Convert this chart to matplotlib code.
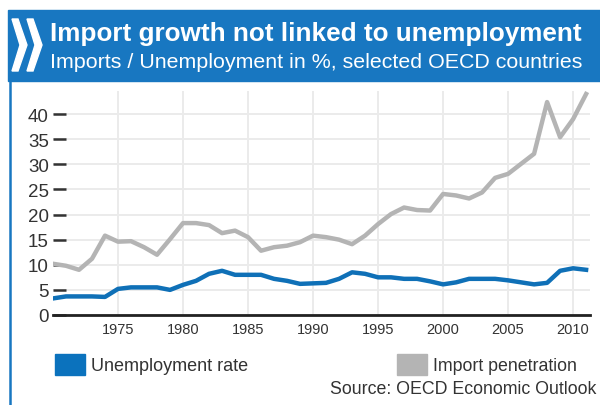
import matplotlib
matplotlib.use("Agg")
import matplotlib.pyplot as plt
from matplotlib.patches import Rectangle, Polygon
from matplotlib.lines import Line2D

plt.rcParams['font.family'] = ['Liberation Sans', 'DejaVu Sans']

years = list(range(1970, 2012))
unemployment = [3.3, 3.7, 3.7, 3.7, 3.6, 5.2, 5.5, 5.5, 5.5, 5.0,
                6.0, 6.8, 8.2, 8.8, 8.0, 8.0, 8.0, 7.2, 6.8, 6.2,
                6.3, 6.4, 7.2, 8.5, 8.2, 7.5, 7.5, 7.2, 7.2, 6.7,
                6.1, 6.5, 7.2, 7.2, 7.2, 6.9, 6.5, 6.1, 6.4, 8.8,
                9.3, 9.0]
imports = [10.2, 9.8, 9.0, 11.2, 15.8, 14.6, 14.7, 13.5, 12.0, 15.1,
           18.3, 18.3, 17.9, 16.3, 16.8, 15.5, 12.8, 13.5, 13.8, 14.5,
           15.8, 15.5, 15.0, 14.1, 15.8, 18.1, 20.1, 21.4, 20.9, 20.8,
           24.1, 23.8, 23.2, 24.4, 27.3, 28.1, 30.1, 32.1, 42.4, 35.4,
           39.0, 44.0]
yticks = [0, 5, 10, 15, 20, 25, 30, 35, 40]
xticks = [1975, 1980, 1985, 1990, 1995, 2000, 2005, 2010]

title = "Import growth not linked to unemployment"
subtitle = "Imports / Unemployment in %, selected OECD countries"
source = "Source: OECD Economic Outlook"

BLUE = "#0f70b7"
HEADER = "#1877c1"
GREY = "#b4b4b4"

W, H = 600, 406
fig = plt.figure(figsize=(6, 4.06), dpi=100)
fig.patch.set_facecolor("white")

def fx(x):
    return x / W
def fy(y):
    return 1 - y / H

# header
fig.patches.append(Rectangle((fx(8), fy(82)), fx(600) - fx(8), fy(11) - fy(82),
                             transform=fig.transFigure, color=HEADER, zorder=0))
# left border
fig.lines.append(Line2D([fx(10), fx(10)], [fy(82), fy(406)], transform=fig.transFigure,
                        color=HEADER, lw=1.8))
# chevrons
for off in (0, 15):
    pts = [(12 + off, 20), (18 + off, 20), (27 + off, 46), (18 + off, 72), (12 + off, 72), (20 + off, 46)]
    fig.patches.append(Polygon([(fx(a), fy(b)) for a, b in pts], closed=True,
                               transform=fig.transFigure, color="white"))

fig.text(fx(50), fy(34), title, color="white", fontsize=18.8, fontweight="bold",
         va="center", ha="left")
fig.text(fx(50), fy(62), subtitle, color="white", fontsize=15.4,
         va="center", ha="left")

ax = fig.add_axes([fx(53), fy(316), fx(590) - fx(53), fy(92) - fy(316)])
ax.plot(years, imports, color=GREY, lw=3.2, zorder=3)
ax.plot(years, unemployment, color=BLUE, lw=3.2, zorder=4)
ax.set_xlim(1970, 2011.3)
ax.set_ylim(0, 44.6)
ax.set_yticks(yticks)
ax.set_xticks(xticks)
ax.grid(True, color="#ebebeb", lw=1.4, zorder=0)
for s in ("top", "right", "left"):
    ax.spines[s].set_visible(False)
ax.spines["bottom"].set_linewidth(2)
ax.spines["bottom"].set_color("#222222")
ax.tick_params(axis="y", direction="in", length=9, width=1.8, color="#333333",
               labelsize=13.5, pad=3, labelcolor="#333333")
ax.tick_params(axis="x", length=0, labelsize=10.5, pad=5, labelcolor="#333333")
ax.set_axisbelow(True)

# legend
fig.patches.append(Rectangle((fx(55), fy(376)), fx(30), fy(355) - fy(376),
                             transform=fig.transFigure, color="#0b72bd"))
fig.text(fx(91), fy(367), "Unemployment rate", fontsize=13, color="#333333",
         va="center", ha="left")
fig.patches.append(Rectangle((fx(397), fy(376)), fx(30), fy(355) - fy(376),
                             transform=fig.transFigure, color=GREY))
fig.text(fx(433), fy(367), "Import penetration", fontsize=12.8, color="#333333",
         va="center", ha="left")
fig.text(fx(596), fy(390), source, fontsize=12.8, color="#333333",
         va="center", ha="right")

fig.savefig("out.png", dpi=100)
